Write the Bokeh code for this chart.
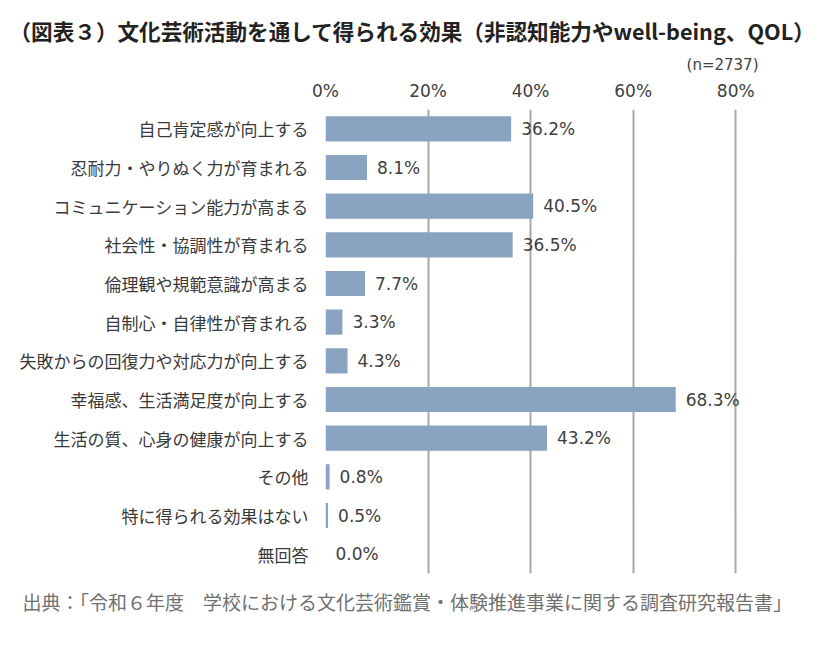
from bokeh.plotting import figure
from bokeh.models import (FactorRange, Range1d, ColumnDataSource, LabelSet, Title,
                          FixedTicker, PrintfTickFormatter)
from bokeh.core.properties import value
from bokeh.embed import file_html
from bokeh.resources import INLINE

title_text = "（図表３）文化芸術活動を通して得られる効果（非認知能力やwell-being、QOL）"
n_text = "(n=2737)"
source_text = "出典：「令和６年度　学校における文化芸術鑑賞・体験推進事業に関する調査研究報告書」"

categories = [
    "自己肯定感が向上する",
    "忍耐力・やりぬく力が育まれる",
    "コミュニケーション能力が高まる",
    "社会性・協調性が育まれる",
    "倫理観や規範意識が高まる",
    "自制心・自律性が育まれる",
    "失敗からの回復力や対応力が向上する",
    "幸福感、生活満足度が向上する",
    "生活の質、心身の健康が向上する",
    "その他",
    "特に得られる効果はない",
    "無回答",
]
values = [36.2, 8.1, 40.5, 36.5, 7.7, 3.3, 4.3, 68.3, 43.2, 0.8, 0.5, 0.0]
tick_values = [0, 20, 40, 60, 80]

labels = [f"{v:.1f}%" for v in values]
src = ColumnDataSource(dict(cat=categories, val=values, lab=labels))

p = figure(width=817, height=658, output_backend="svg", toolbar_location=None,
           y_range=FactorRange(factors=list(reversed(categories))),
           x_range=Range1d(0, 86), x_axis_location="above",
           min_border_left=325, min_border_right=51, min_border_top=109,
           min_border_bottom=85)
p.outline_line_color = None
p.background_fill_color = "white"
p.border_fill_color = "white"

p.hbar(y="cat", right="val", left=0, height=0.65, source=src,
       fill_color="#8aa3c0", line_color=None)

# x axis (top)
xa = p.xaxis[0]
xa.ticker = FixedTicker(ticks=tick_values)
xa.formatter = PrintfTickFormatter(format="%d%%")
xa.axis_line_color = None
xa.major_tick_line_color = None
xa.minor_tick_line_color = None
xa.major_label_standoff = 3
xa.major_label_text_font = "DejaVu Sans"
xa.major_label_text_font_size = "17px"
xa.major_label_text_color = "#404040"

# y axis (left)
ya = p.yaxis[0]
ya.axis_line_color = None
ya.major_tick_line_color = None
ya.minor_tick_line_color = None
ya.major_label_standoff = 11
ya.major_label_text_font = "Noto Sans CJK JP"
ya.major_label_text_font_size = "17px"
ya.major_label_text_color = "#3a3a3a"

p.xgrid.ticker = FixedTicker(ticks=tick_values)
p.xgrid.grid_line_color = "#a8a8a8"
p.xgrid.grid_line_width = 2
p.ygrid.grid_line_color = None

p.add_layout(LabelSet(x="val", y="cat", text="lab", source=src, x_offset=10,
                      text_baseline="middle", text_font=value("DejaVu Sans"),
                      text_font_size=value("17px"), text_color=value("#404040")))

# n label (above, between axis and title)
p.add_layout(Title(text=n_text, align="right", offset=8, standoff=8,
                   text_font="DejaVu Sans", text_font_size="15px",
                   text_font_style="normal", text_color="#404040"), "above")

# main title
p.title.text = title_text
p.title.align = "left"
p.title.offset = -316
p.title.standoff = 8
p.title.text_font = "Noto Sans CJK JP"
p.title.text_font_size = "21.6px"
p.title.text_font_style = "bold"
p.title.text_color = "#222222"

# source note
p.add_layout(Title(text=source_text, align="left", offset=-303, standoff=24,
                   text_font="Noto Sans CJK JP", text_font_size="19px",
                   text_font_style="normal", text_color="#707070"), "below")

open("out.html", "w").write(file_html(p, INLINE))
